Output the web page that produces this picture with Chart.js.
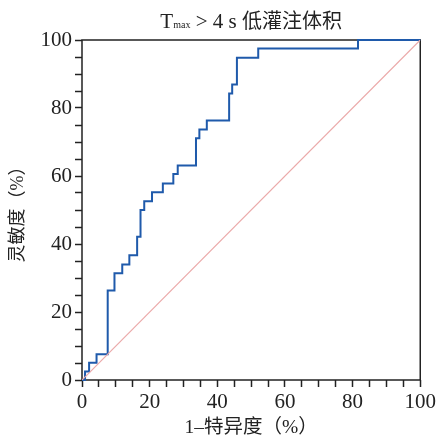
<!DOCTYPE html>
<html>
<head>
<meta charset="utf-8">
<script src="https://cdn.jsdelivr.net/npm/chart.js@4/dist/chart.umd.min.js"></script>
<style>
  body { margin: 0; background: #fff; }
</style>
</head>
<body>
<canvas id="roc" width="439" height="440"></canvas>
<script>
  // ROC corner points: 1-specificity (%) and sensitivity (%)
  const fpr = [0, 0.9, 2.1, 4.3, 7.6, 9.6, 11.9, 14.0, 16.3, 17.3, 18.4, 20.7, 23.9, 27.0, 28.3, 33.7, 34.7, 36.9, 43.5, 44.4, 45.8, 52.1, 81.6, 100];
  const tpr = [0, 2.5, 5.1, 7.6, 26.3, 31.4, 34.0, 36.7, 42.1, 50.0, 52.6, 55.2, 57.8, 60.6, 63.1, 71.1, 73.7, 76.3, 84.3, 86.9, 94.8, 97.5, 100, 100];
  const refX = [0, 100];
  const refY = [0, 100];

  const titleMain = 'T';
  const titleSub = 'max';
  const titleRest = ' > 4 s ';
  const titleCjk = '低灌注体积';
  const xLabel = '1–特异度（%）';
  const yLabel = '灵敏度（%）';

  const serif = '"Liberation Serif", "Noto Sans CJK SC", serif';
  const ink = '#222';

  const toPoints = (xs, ys) => xs.map((x, i) => ({ x: x, y: ys[i] }));

  // frame round the plot, and the title with its subscript
  const extras = {
    id: 'extras',
    beforeDatasetsDraw(chart) {
      const { ctx, chartArea: a } = chart;
      ctx.save();
      ctx.strokeStyle = ink;
      ctx.lineWidth = 1.5;
      ctx.strokeRect(a.left, a.top, a.right - a.left, a.bottom - a.top);
      ctx.restore();
    },
    afterDraw(chart) {
      const { ctx, chartArea: a } = chart;
      const parts = [
        [titleMain, '21px ' + serif],
        [titleSub, '10px ' + serif],
        [titleRest, '21px ' + serif],
        [titleCjk, '20px "Noto Sans CJK SC", sans-serif']
      ];
      ctx.save();
      ctx.fillStyle = ink;
      ctx.textBaseline = 'alphabetic';
      let total = 0;
      parts.forEach(p => { ctx.font = p[1]; total += ctx.measureText(p[0]).width; });
      let x = (a.left + a.right) / 2 - total / 2;
      parts.forEach(p => {
        ctx.font = p[1];
        ctx.fillText(p[0], x, 28);
        x += ctx.measureText(p[0]).width;
      });
      ctx.restore();
    }
  };

  const tickLabel = v => (v % 20 === 0 ? v : '');

  new Chart(document.getElementById('roc'), {
    type: 'scatter',
    data: {
      datasets: [
        {
          data: toPoints(refX, refY),
          showLine: true,
          borderColor: '#eba9a9',
          borderWidth: 1.2,
          pointRadius: 0
        },
        {
          data: toPoints(fpr, tpr),
          showLine: true,
          stepped: true,
          borderColor: '#1f5aab',
          borderWidth: 2,
          pointRadius: 0,
          clip: false
        }
      ]
    },
    options: {
      responsive: false,
      animation: false,
      devicePixelRatio: 1,
      layout: { padding: { top: 40, right: 15, left: 0, bottom: 0 } },
      plugins: {
        legend: { display: false },
        tooltip: { enabled: false }
      },
      scales: {
        x: {
          type: 'linear',
          min: 0,
          max: 100,
          afterFit: s => { s.height = 60; },
          border: { display: false },
          grid: { drawOnChartArea: false, tickLength: 7, tickColor: ink, tickWidth: 1.5 },
          ticks: {
            stepSize: 5,
            autoSkip: false,
            maxRotation: 0,
            padding: 3,
            color: ink,
            font: { family: serif, size: 21 },
            callback: tickLabel
          },
          title: {
            display: true,
            text: xLabel,
            color: ink,
            font: { family: serif, size: 19.5 },
            padding: { top: 0, bottom: 0 }
          }
        },
        y: {
          type: 'linear',
          min: 0,
          max: 100,
          afterFit: s => { s.width = 82; },
          border: { display: false },
          grid: { drawOnChartArea: false, tickLength: 7, tickColor: ink, tickWidth: 1.5 },
          ticks: {
            stepSize: 5,
            autoSkip: false,
            padding: 3,
            color: ink,
            font: { family: serif, size: 21 },
            callback: tickLabel
          },
          title: {
            display: true,
            text: yLabel,
            color: ink,
            font: { family: serif, size: 18 },
            padding: { top: 7, bottom: 0 }
          }
        }
      }
    },
    plugins: [extras]
  });
</script>
</body>
</html>
